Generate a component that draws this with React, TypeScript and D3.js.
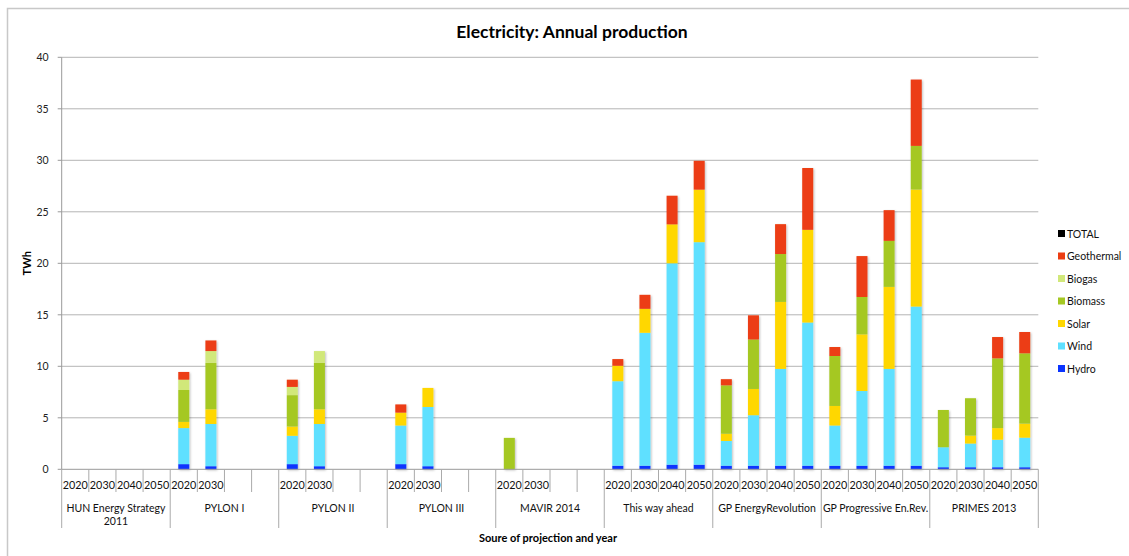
import React from "react";
import * as d3 from "d3";

const groups = [
  "HUN Energy Strategy|2011",
  "PYLON I",
  "PYLON II",
  "PYLON III",
  "MAVIR 2014",
  "This way ahead",
  "GP EnergyRevolution",
  "GP Progressive En.Rev.",
  "PRIMES 2013",
];
const yearLabels = ["2020", "2030", "2040", "2050"];
const yearsShown = [4, 2, 2, 2, 2, 4, 4, 4, 4];
const yTicks = [0, 5, 10, 15, 20, 25, 30, 35, 40];

const hydro = [0, 0, 0, 0, 0.5, 0.3, 0, 0, 0.5, 0.3, 0, 0, 0.5, 0.3, 0, 0, 0, 0, 0, 0, 0.35, 0.35, 0.45, 0.45, 0.35, 0.35, 0.35, 0.35, 0.35, 0.35, 0.35, 0.35, 0.2, 0.2, 0.2, 0.2];
const wind = [0, 0, 0, 0, 3.5, 4.1, 0, 0, 2.75, 4.1, 0, 0, 3.75, 5.75, 0, 0, 0, 0, 0, 0, 8.2, 12.9, 19.55, 21.6, 2.4, 4.9, 9.4, 13.9, 3.9, 7.25, 9.4, 15.45, 1.94, 2.3, 2.67, 2.87];
const solar = [0, 0, 0, 0, 0.6, 1.43, 0, 0, 0.9, 1.43, 0, 0, 1.25, 1.85, 0, 0, 0, 0, 0, 0, 1.5, 2.33, 3.78, 5.1, 0.7, 2.55, 6.5, 9.0, 1.9, 5.5, 7.96, 11.36, 0, 0.77, 1.13, 1.36];
const biomass = [0, 0, 0, 0, 3.1, 4.5, 0, 0, 3.05, 4.5, 0, 0, 0, 0, 0, 0, 3.05, 0, 0, 0, 0, 0, 0, 0, 4.7, 4.8, 4.65, 0, 4.85, 3.63, 4.47, 4.24, 3.62, 3.63, 6.77, 6.83];
const biogas = [0, 0, 0, 0, 1.0, 1.15, 0, 0, 0.8, 1.15, 0, 0, 0, 0, 0, 0, 0, 0, 0, 0, 0, 0, 0, 0, 0, 0, 0, 0, 0, 0, 0, 0, 0, 0, 0, 0];
const geothermal = [0, 0, 0, 0, 0.75, 1.03, 0, 0, 0.7, 0, 0, 0, 0.8, 0, 0, 0, 0, 0, 0, 0, 0.65, 1.36, 2.78, 2.8, 0.6, 2.35, 2.9, 6.0, 0.87, 3.97, 2.98, 6.44, 0, 0, 2.07, 2.07];

const seriesNames = ["Hydro", "Wind", "Solar", "Biomass", "Biogas", "Geothermal"];
const seriesValues = [hydro, wind, solar, biomass, biogas, geothermal];
const seriesColors = ["#0a34ff", "#5ee0ff", "#ffd700", "#a5c823", "#d1e87a", "#ec3d12"];
const legendNames = ["TOTAL", "Geothermal", "Biogas", "Biomass", "Solar", "Wind", "Hydro"];
const legendColors = ["#000000", "#ec3d12", "#d1e87a", "#a5c823", "#ffd700", "#5ee0ff", "#0a34ff"];

const FONT = "Lato, 'Liberation Sans', sans-serif";

export default function App() {
  const nSlots = groups.length * 4;
  const slots = d3.range(nSlots);
  const x = d3.scaleBand<number>().domain(slots).range([61.7, 1038.3]).padding(0);
  const y = d3.scaleLinear().domain([0, 40]).range([469.3, 57.3]);
  const barW = 11;

  const rows = slots.map((i) => {
    const r: any = { i };
    seriesNames.forEach((n, k) => (r[n] = seriesValues[k][i]));
    return r;
  });
  const stacked = d3.stack<any>().keys(seriesNames)(rows);

  const y0 = y(0);
  const left = x.range()[0];
  const right = x.range()[1];

  return (
    <svg width={1129} height={556} style={{ position: "absolute", left: 0, top: 0, background: "#fff" }} fontFamily={FONT}>
      <defs>
        <filter id="sh" x="-50%" y="-10%" width="200%" height="120%">
          <feDropShadow dx="1" dy="1" stdDeviation="0.8" floodColor="#000" floodOpacity="0.25" />
        </filter>
      </defs>
      <rect x={7.5} y={8.5} width={1200} height={600} fill="#fff" stroke="#c8c8c8" strokeWidth={1.5} />
      <text x={572} y={38} textAnchor="middle" fontSize={17.5} fontWeight="bold" fill="#000">
        Electricity: Annual production
      </text>

      {/* grid */}
      {yTicks.map((t) => (
        <g key={t}>
          {t > 0 && <line x1={left} x2={right} y1={y(t)} y2={y(t)} stroke="#b4b4b4" strokeWidth={1} />}
          <line x1={left - 4} x2={left} y1={y(t)} y2={y(t)} stroke="#999" />
          <text x={left - 13} y={y(t) + 4} textAnchor="end" fontSize={10.5} fill="#222">
            {t}
          </text>
        </g>
      ))}
      <line x1={left} x2={left} y1={y(40)} y2={y0} stroke="#999" />
      <text transform={`translate(31,${y(20)}) rotate(-90)`} textAnchor="middle" fontSize={11} fontWeight="bold">
        TWh
      </text>

      {/* bars */}
      <g filter="url(#sh)">
        {stacked.map((s, k) =>
          s.map((d, i) =>
            d[1] - d[0] > 0 ? (
              <rect
                key={`${k}-${i}`}
                x={(x(i) as number) + x.bandwidth() / 2 - barW / 2}
                y={y(d[1])}
                width={barW}
                height={y(d[0]) - y(d[1])}
                fill={seriesColors[k]}
              />
            ) : null
          )
        )}
      </g>

      {/* x axis */}
      <line x1={left} x2={right} y1={y0} y2={y0} stroke="#999" />
      {d3.range(nSlots + 1).map((i) => {
        const xx = left + i * x.bandwidth();
        const isGroup = i % 4 === 0;
        return <line key={i} x1={xx} x2={xx} y1={y0} y2={isGroup ? 528 : 492} stroke="#aaa" />;
      })}
      {slots.map((i) => {
        const g = Math.floor(i / 4);
        const k = i % 4;
        if (k >= yearsShown[g]) return null;
        return (
          <text key={i} x={(x(i) as number) + x.bandwidth() / 2} y={489} textAnchor="middle" fontSize={10.8} fill="#111">
            {yearLabels[k]}
          </text>
        );
      })}
      {groups.map((g, gi) => {
        const cx = left + (gi * 4 + 2) * x.bandwidth();
        const lines = g.split("|");
        return (
          <text key={g} x={cx} y={512} textAnchor="middle" fontSize={10.5} fill="#111">
            {lines.map((l, li) => (
              <tspan key={li} x={cx} dy={li === 0 ? 0 : 13}>
                {l}
              </tspan>
            ))}
          </text>
        );
      })}
      <text x={548} y={542} textAnchor="middle" fontSize={11} fontWeight="bold">
        Soure of projection and year
      </text>

      {/* legend */}
      {legendNames.map((n, i) => (
        <g key={n} transform={`translate(1058,${234 + i * 22.5})`}>
          <rect x={0} y={-4} width={7} height={7} fill={legendColors[i]} />
          <text x={9} y={3.5} fontSize={10.5} fill="#111">
            {n}
          </text>
        </g>
      ))}
    </svg>
  );
}
